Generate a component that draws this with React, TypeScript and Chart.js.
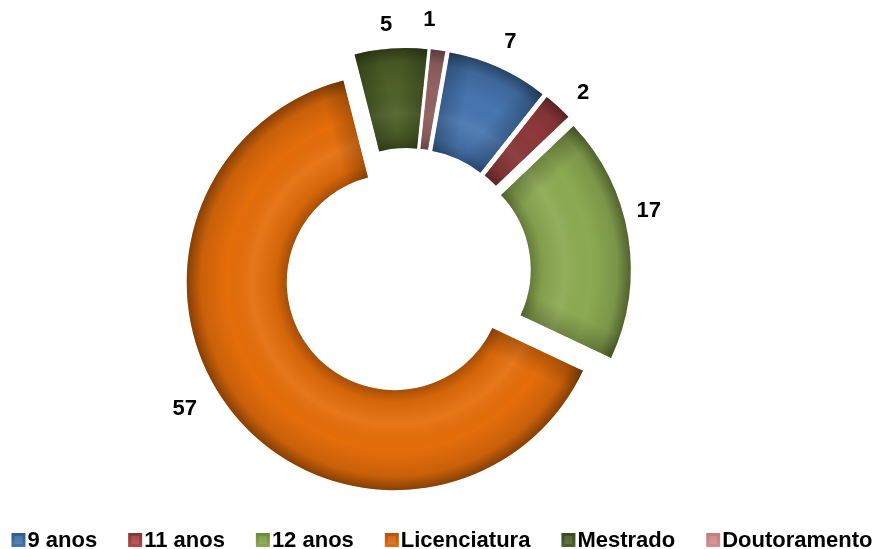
import React, { useEffect, useRef } from 'react';
import { Chart, registerables } from 'chart.js';

Chart.register(...registerables);

const categories = ['9 anos', '11 anos', '12 anos', 'Licenciatura', 'Mestrado', 'Doutoramento'];
const values = [7, 2, 17, 57, 5, 1];
const sliceColors = ['#4675B0', '#B5484A', '#8CAA52', '#E56D0A', '#4F6228', '#D38F8D'];
const legendColors = ['#2F5B90', '#8A3331', '#6B8838', '#B2520A', '#3A4A1C', '#C27C7A'];
const labelNudge = [[2, -4], [9, 4], [-3, -21], [-31, -21], [-3, 0], [-12, -6]];

const EXPLODE = 16;
const FONT = '"Liberation Sans", Arial, sans-serif';

const explodePlugin = {
  id: 'explodeShade',
  beforeDatasetsDraw(chart: any) {
    const ctx: CanvasRenderingContext2D = chart.ctx;
    const meta = chart.getDatasetMeta(0);
    meta.data.forEach((arc: any) => {
      const { x, y, startAngle, endAngle, innerRadius, outerRadius } = arc.getProps(
        ['x', 'y', 'startAngle', 'endAngle', 'innerRadius', 'outerRadius'],
        true
      );
      const mid = (startAngle + endAngle) / 2;
      ctx.save();
      ctx.translate(Math.cos(mid) * EXPLODE, Math.sin(mid) * EXPLODE);
      arc.draw(ctx);
      // bevel-like shading
      ctx.beginPath();
      ctx.arc(x, y, outerRadius, startAngle, endAngle);
      ctx.arc(x, y, innerRadius, endAngle, startAngle, true);
      ctx.closePath();
      ctx.clip();
      const g = ctx.createRadialGradient(x, y, innerRadius, x, y, outerRadius);
      g.addColorStop(0, 'rgba(0,0,0,0.28)');
      g.addColorStop(0.12, 'rgba(0,0,0,0.07)');
      g.addColorStop(0.35, 'rgba(255,255,255,0.07)');
      g.addColorStop(0.6, 'rgba(0,0,0,0)');
      g.addColorStop(0.86, 'rgba(0,0,0,0.12)');
      g.addColorStop(1, 'rgba(0,0,0,0.42)');
      ctx.fillStyle = g;
      ctx.fillRect(x - outerRadius, y - outerRadius, outerRadius * 2, outerRadius * 2);
      const edges = [
        { a: startAngle, nx: -Math.sin(startAngle), ny: Math.cos(startAngle) },
        { a: endAngle, nx: Math.sin(endAngle), ny: -Math.cos(endAngle) },
      ];
      edges.forEach((e) => {
        const rm = (innerRadius + outerRadius) / 2;
        const px = x + Math.cos(e.a) * rm;
        const py = y + Math.sin(e.a) * rm;
        const lg = ctx.createLinearGradient(px - e.nx * 24, py - e.ny * 24, px + e.nx * 24, py + e.ny * 24);
        lg.addColorStop(0, 'rgba(0,0,0,0)');
        lg.addColorStop(0.499, 'rgba(0,0,0,0)');
        lg.addColorStop(0.5, 'rgba(0,0,0,0.22)');
        lg.addColorStop(1, 'rgba(0,0,0,0)');
        ctx.fillStyle = lg;
        ctx.beginPath();
        ctx.arc(x, y, outerRadius, e.a - 0.6, e.a + 0.6);
        ctx.arc(x, y, innerRadius, e.a + 0.6, e.a - 0.6, true);
        ctx.closePath();
        ctx.fill();
      });
      ctx.restore();
    });
    return false;
  },
  afterDraw(chart: any) {
    const ctx: CanvasRenderingContext2D = chart.ctx;
    const meta = chart.getDatasetMeta(0);
    ctx.save();
    ctx.font = `bold 22px ${FONT}`;
    ctx.fillStyle = '#000';
    ctx.textAlign = 'center';
    ctx.textBaseline = 'middle';
    meta.data.forEach((arc: any, i: number) => {
      const { x, y, startAngle, endAngle, outerRadius } = arc.getProps(
        ['x', 'y', 'startAngle', 'endAngle', 'outerRadius'],
        true
      );
      const mid = (startAngle + endAngle) / 2;
      const dist = outerRadius + EXPLODE + 24;
      const lx = x + Math.cos(mid) * dist + labelNudge[i][0];
      const ly = y + Math.sin(mid) * dist + labelNudge[i][1];
      ctx.fillText(String(values[i]), lx, ly);
    });

    // legend
    const box = 14;
    const boxGap = 2;
    const itemGap = 31;
    const widths = categories.map((c) => ctx.measureText(c).width);
    const total = widths.reduce((s, w) => s + box + boxGap + w, 0) + itemGap * (categories.length - 1);
    let cx = chart.width / 2 + 3 - total / 2;
    const by = 533;
    ctx.textAlign = 'left';
    ctx.textBaseline = 'alphabetic';
    categories.forEach((c, i) => {
      const lg = ctx.createLinearGradient(cx, by, cx, by + box);
      lg.addColorStop(0, legendColors[i]);
      lg.addColorStop(1, sliceColors[i]);
      ctx.fillStyle = lg;
      ctx.fillRect(cx, by, box, box);
      ctx.fillStyle = 'rgba(255,255,255,0.12)';
      ctx.fillRect(cx + 3, by + 3, box - 6, box - 6);
      ctx.fillStyle = '#000';
      ctx.fillText(c, cx + box + boxGap, by + box);
      cx += box + boxGap + widths[i] + itemGap;
    });
    ctx.restore();
  },
};

export default function App() {
  const ref = useRef<HTMLCanvasElement>(null);
  useEffect(() => {
    if (!ref.current) return;
    const chart = new Chart(ref.current, {
      type: 'doughnut',
      data: {
        labels: categories,
        datasets: [
          {
            data: values,
            backgroundColor: sliceColors,
            borderWidth: 0,
            offset: 0,
          },
        ],
      },
      options: {
        responsive: false,
        animation: false,
        rotation: 10,
        radius: 208,
        cutout: '51.9%',
        events: [],
        layout: { padding: { left: 0, top: 0, right: 64, bottom: 5 } },
        plugins: {
          legend: { display: false },
          tooltip: { enabled: false },
        },
      },
      plugins: [explodePlugin],
    } as any);
    return () => chart.destroy();
  }, []);
  return (
    <div style={{ position: 'fixed', left: 0, top: 0, width: 878, height: 549, background: '#fff' }}>
      <canvas ref={ref} width={878} height={549} style={{ width: 878, height: 549, display: 'block' }} />
    </div>
  );
}
